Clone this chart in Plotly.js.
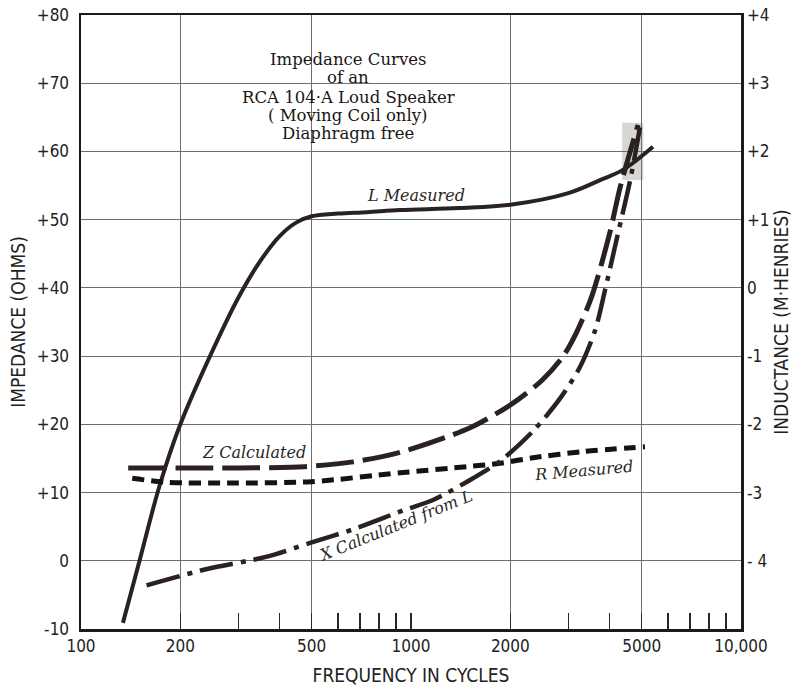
<!DOCTYPE html>
<html>
<head>
<meta charset="utf-8">
<script src="https://cdn.plot.ly/plotly-3.0.1.min.js"></script>
<style>html,body{margin:0;padding:0;background:#fff;}#chart{width:794px;height:688px;}</style>
</head>
<body>
<div id="chart"></div>
<script>
// ---- Data ----
// L Measured (plotted against the left scale; right scale = (left-40)/10 mH)
const lFreq = [134, 151, 173, 200, 246, 300, 350, 400, 450, 500, 600, 736, 927, 1400, 2000, 3000, 3741, 4385, 5410];
const lVal  = [-9.1, 0.3, 11.0, 20.0, 30.0, 38.6, 44.0, 47.6, 49.6, 50.5, 50.9, 51.1, 51.4, 51.7, 52.2, 53.9, 55.8, 57.3, 60.7];

// Z Calculated
const zFreq = [139, 200, 300, 477, 667, 927, 1510, 2037, 2500, 2893, 3183, 3532, 4010, 4295, 4875];
const zVal  = [13.6, 13.6, 13.6, 13.8, 14.5, 15.9, 19.5, 23.1, 26.5, 30.0, 33.6, 38.8, 48.2, 54.6, 63.9];

// R Measured
const rFreq = [143, 182, 289, 500, 927, 1479, 1862, 2343, 3319, 5117];
const rVal  = [12.1, 11.5, 11.4, 11.6, 12.9, 13.8, 14.3, 15.1, 16.0, 16.7];

// X Calculated from L
const xFreq = [158, 241, 366, 500, 667, 950, 1166, 1542, 1862, 2343, 2830, 3251, 3614, 3873, 4240, 4615, 4945];
const xVal  = [-3.6, -1.2, 0.6, 2.7, 4.6, 7.4, 8.9, 12.1, 14.6, 19.0, 23.8, 28.4, 33.8, 39.7, 48.0, 55.8, 63.6];

// Axis ticks
const freqTicks  = [100,200,300,400,500,600,700,800,900,1000,2000,3000,4000,5000,6000,7000,8000,9000,10000];
const freqLabels = ['100','200','','','500','','','','','1000','2000','','','5000','','','','','10,000'];
const freqGrid   = [200, 500, 2000, 5000];
const ohmTicks   = [-10, 0, 10, 20, 30, 40, 50, 60, 70, 80];
const ohmLabels  = ['-10', '0', '+10', '+20', '+30', '+40', '+50', '+60', '+70', '+80'];
const mhTicks    = [-4, -3, -2, -1, 0, 1, 2, 3, 4];
const mhLabels   = ['- 4', '-3', '-2', '-1', '0', '+1', '+2', '+3', '+4'];

const titleLines = ['Impedance Curves', 'of an', 'RCA 104·A Loud Speaker', '( Moving Coil only)', 'Diaphragm free'];

// ---- Styles ----
const ink = '#2a2220';
const gridC = '#6e6e6a';
const sans = 'DejaVu Sans Condensed, DejaVu Sans, sans-serif';
const serif = 'DejaVu Serif, Liberation Serif, serif';

const traces = [
  {x: lFreq, y: lVal, mode: 'lines', line: {color: ink, width: 4, shape: 'spline', smoothing: 1}, hoverinfo: 'skip'},
  {x: zFreq, y: zVal, mode: 'lines', line: {color: ink, width: 5, dash: '38px,9px', shape: 'spline', smoothing: 0.8}, hoverinfo: 'skip'},
  {x: rFreq, y: rVal, mode: 'lines', line: {color: '#141212', width: 5, dash: '12px,7px', shape: 'spline', smoothing: 0.8}, hoverinfo: 'skip'},
  {x: xFreq, y: xVal, mode: 'lines', line: {color: ink, width: 4.5, dash: '34px,8px,5px,8px', shape: 'spline', smoothing: 0.8}, hoverinfo: 'skip'},
  {x: [], y: [], yaxis: 'y2', mode: 'lines', hoverinfo: 'skip'}
];

const annotations = [];
const titleY = [73.55, 70.77, 67.98, 65.34, 62.70];
titleLines.forEach((t, i) => {
  annotations.push({text: t, xref: 'paper', yref: 'y', x: 0.405, y: titleY[i], showarrow: false,
    xanchor: 'center', yanchor: 'middle', font: {family: serif, size: 16.5, color: '#1a1614'}});
});
const italic = {family: serif, size: 16, color: '#2a2622', style: 'italic'};
function label(text, x, y, angle) {
  annotations.push({text: text, xref: 'paper', yref: 'y', x: x, y: y, showarrow: false,
    xanchor: 'center', yanchor: 'middle', textangle: angle, font: italic});
}
label('L Measured', 0.508, 53.5, 0);
label('Z Calculated', 0.262, 15.8, 0);
label('X Calculated from L', 0.477, 5.2, -22);
label('R Measured', 0.761, 13.3, -5);

const layout = {
  width: 794, height: 688,
  margin: {l: 81, r: 53, t: 15, b: 59},
  paper_bgcolor: '#fff', plot_bgcolor: '#fff',
  showlegend: false,
  xaxis: {
    type: 'log', range: [2, 4],
    tickmode: 'array', tickvals: freqTicks, ticktext: freqLabels,
    ticks: 'inside', ticklen: 16, tickwidth: 1.5, tickcolor: '#2a2622',
    showgrid: false, zeroline: false,
    minor: {tickmode: 'array', tickvals: freqGrid, showgrid: true, gridcolor: gridC, gridwidth: 1.2, ticks: ''},
    showline: true, mirror: true, linecolor: '#1e1a18', linewidth: 2.5,
    tickfont: {family: sans, size: 17, color: '#222'},
    title: {text: 'FREQUENCY IN CYCLES', font: {family: sans, size: 19, color: '#222'}, standoff: 14}
  },
  yaxis: {
    range: [-10, 80], tickmode: 'array', tickvals: ohmTicks, ticktext: ohmLabels,
    ticks: '', showgrid: true, gridcolor: gridC, gridwidth: 1.2, zeroline: false,
    showline: true, mirror: true, linecolor: '#1e1a18', linewidth: 2.5,
    tickfont: {family: sans, size: 17, color: '#222'}, ticklabelstandoff: 6,
    title: {text: 'IMPEDANCE (OHMS)', font: {family: sans, size: 19, color: '#222'}, standoff: 6}
  },
  yaxis2: {
    overlaying: 'y', side: 'right', range: [-5, 4], tickmode: 'array', tickvals: mhTicks, ticktext: mhLabels,
    ticks: '', showgrid: false, zeroline: false, showline: false,
    tickfont: {family: sans, size: 17, color: '#222'}, ticklabelstandoff: 5,
    title: {text: 'INDUCTANCE (M·HENRIES)', font: {family: sans, size: 19, color: '#222'}, standoff: 4}
  },
  shapes: [
    {type: 'rect', layer: 'between', xref: 'paper', yref: 'y', x0: 0.206, x1: 0.627, y0: 60.6, y1: 80,
      fillcolor: '#fff', line: {width: 0}},
    {type: 'rect', layer: 'between', xref: 'paper', yref: 'y', x0: 0.820, x1: 0.852, y0: 55.8, y1: 64.2,
      fillcolor: '#d6d6d4', line: {width: 0}}
  ],
  annotations: annotations
};

Plotly.newPlot('chart', traces, layout, {staticPlot: true, displayModeBar: false});
</script>
</body>
</html>
